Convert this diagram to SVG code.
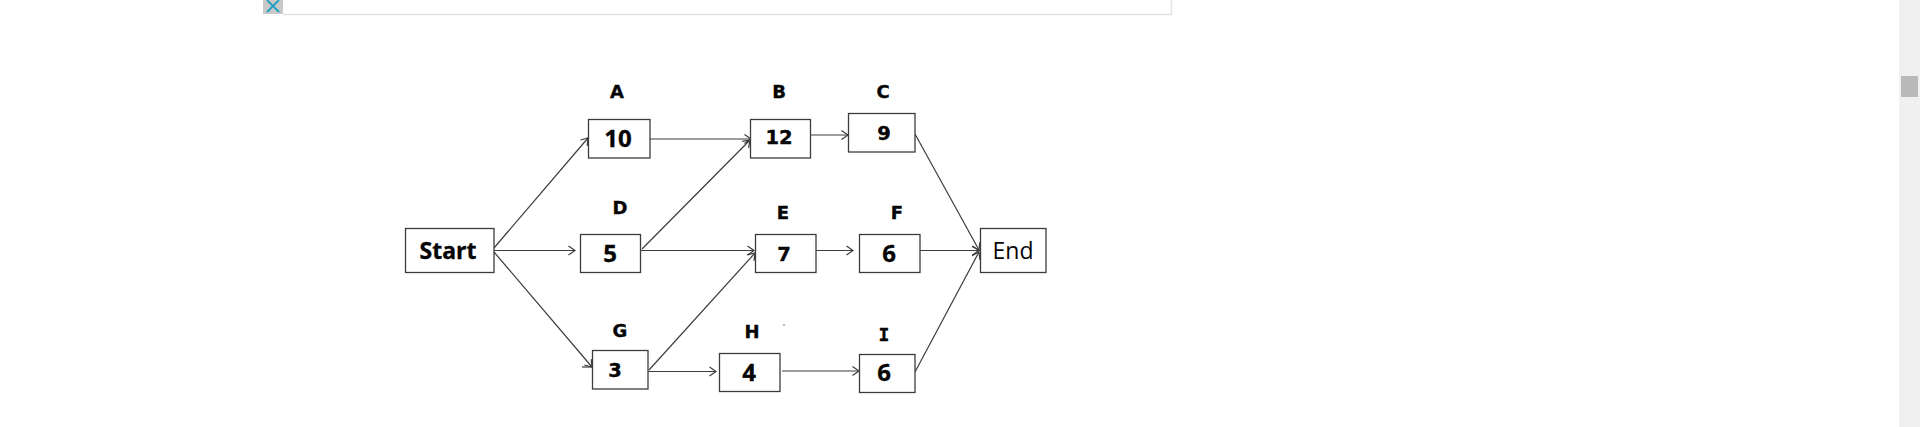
<svg xmlns="http://www.w3.org/2000/svg" width="1920" height="427" viewBox="0 0 1920 427">
<style>
.box{fill:#fff;stroke:#3c3c3c;stroke-width:1.3}
.c{fill:none;stroke:#3c3c3c;stroke-width:1.2;marker-end:url(#arr)}
text{text-anchor:middle;fill:#050505;stroke:#050505;stroke-width:.35}
.l{font:bold 18px "DejaVu Sans",sans-serif}
.m{font:bold 18px "DejaVu Sans Mono",monospace}
.v{font:bold 19.500px "DejaVu Sans",sans-serif}
.o{font:bold 24px "Open Sans",sans-serif}
.s{font:bold 23px "Open Sans",sans-serif}
.r{font:23px "Open Sans",sans-serif;stroke:none}
</style>
<defs>
<marker id="arr" markerUnits="userSpaceOnUse" markerWidth="14" markerHeight="14" refX="9" refY="6" orient="auto">
<path d="M2.500 1.500L9 6L2.500 10.500" fill="none" stroke="#3c3c3c" stroke-width="1.2"/>
</marker>
</defs>
<rect width="1920" height="427" fill="#fff"/>
<g id="chrome">
<path d="M283 14.500H1171.500V0" fill="none" stroke="#e4e4e4" stroke-width="1.4"/>
<rect x="263" y="0" width="20" height="14" fill="#c8c8c8"/>
<path d="M267 0L279 12M279 0L267 12" stroke="#1f9fc0" stroke-width="1.8" fill="none"/>
<rect x="1899" y="0" width="21" height="427" fill="#f0f0f0"/>
<rect x="1901" y="76" width="17" height="21" fill="#b9b9b9"/>
<circle cx="784" cy="325" r="0.8" fill="#666"/>
</g>
<g id="connectors">
<path class="c" d="M494 248L588 138"/>
<path class="c" d="M494 250.500L575 250.500"/>
<path class="c" d="M494 252L592 367"/>
<path class="c" d="M650 139L751 139"/>
<path class="c" d="M642 249L750 140"/>
<path class="c" d="M810 135L848 135"/>
<path class="c" d="M915 134L979 250"/>
<path class="c" d="M640 250.500L754 250.500"/>
<path class="c" d="M649 370L755 253"/>
<path class="c" d="M816 250.500L853 250.500"/>
<path class="c" d="M920 250.500L979 250.500"/>
<path class="c" d="M915 372L979 252"/>
<path class="c" d="M648 371.500L716 371.500"/>
<path class="c" d="M782 371L859 371"/>
<path d="M582 367H592" fill="none" stroke="#3c3c3c" stroke-width="1.2"/>
</g>
<g id="start"><rect class="box" x="405.500" y="228.500" width="88.500" height="44"/><text class="s" x="448" y="259">Start</text></g>
<g id="a"><rect class="box" x="588.500" y="119.500" width="61.500" height="38.500"/><text class="l" x="617" y="98">A</text><text class="o" x="618" y="147">10</text></g>
<g id="b"><rect class="box" x="750.500" y="119.500" width="60" height="38.500"/><text class="l" x="779" y="98">B</text><text class="v" x="779" y="144">12</text></g>
<g id="c"><rect class="box" x="848.500" y="113.500" width="66.500" height="38.500"/><text class="l" x="883" y="97.500">C</text><text class="v" x="884" y="140">9</text></g>
<g id="d"><rect class="box" x="580.500" y="234.500" width="60" height="38"/><text class="l" x="620" y="214">D</text><text class="o" x="610" y="262">5</text></g>
<g id="e"><rect class="box" x="755.500" y="234.500" width="60.500" height="38"/><text class="l" x="783" y="219">E</text><text class="v" x="784" y="261">7</text></g>
<g id="f"><rect class="box" x="859.500" y="234.500" width="60.500" height="38"/><text class="l" x="897" y="219">F</text><text class="o" x="889" y="262">6</text></g>
<g id="g"><rect class="box" x="592.500" y="350.500" width="55.500" height="38.500"/><text class="l" x="620" y="336.500">G</text><text class="v" x="615" y="377">3</text></g>
<g id="h"><rect class="box" x="719.500" y="353.500" width="60.500" height="38"/><text class="l" x="752" y="338">H</text><text class="o" x="749" y="381">4</text></g>
<g id="i"><rect class="box" x="859.500" y="354.500" width="55.500" height="38"/><text class="m" x="884" y="341">I</text><text class="o" x="884" y="381">6</text></g>
<g id="end"><rect class="box" x="980.500" y="228.500" width="65.500" height="44"/><text class="r" x="1013" y="259">End</text></g>
</svg>
